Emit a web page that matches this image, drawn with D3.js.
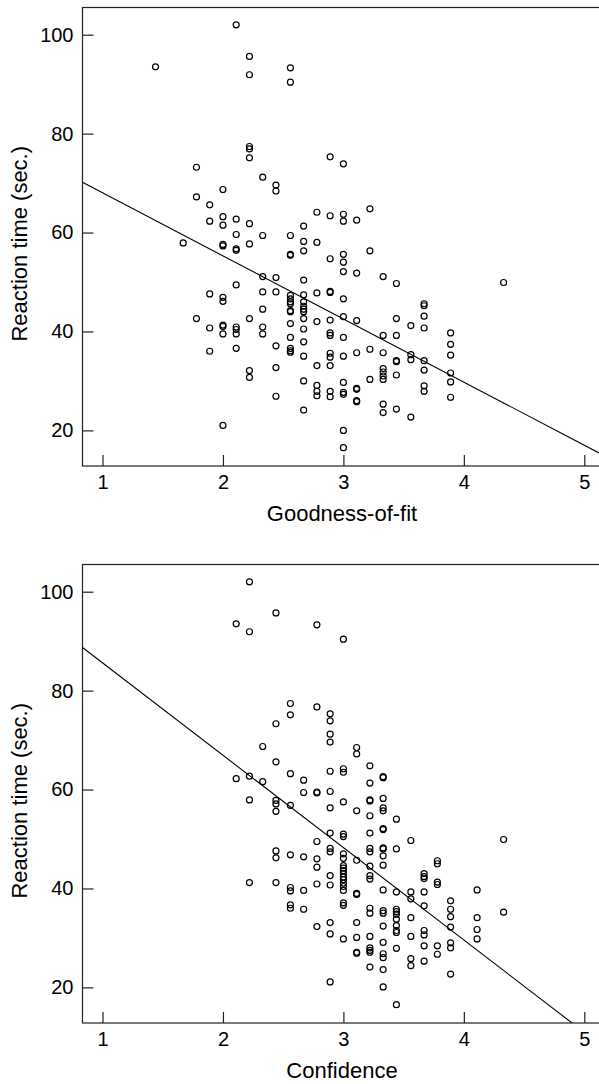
<!DOCTYPE html>
<html>
<head>
<meta charset="utf-8">
<script src="https://d3js.org/d3.v7.min.js"></script>
<style>
  body { margin: 0; background: #fff; }
  text { font-family: "Liberation Sans", Arial, sans-serif; fill: #000; }
</style>
</head>
<body>
<script>
(function(){

  //goodness-of-fit panel: score levels and the reaction times observed at each level
  var gofLevels = [1.44, 1.67, 1.78, 1.89, 2.00, 2.11, 2.22, 2.33, 2.44, 2.56, 2.67, 2.78,
                   2.89, 3.00, 3.11, 3.22, 3.33, 3.44, 3.56, 3.67, 3.89, 4.33];
  var gofTimes = [
    [93.5],
    [57.9],
    [73.2, 67.2, 42.6],
    [65.6, 62.3, 47.6, 40.7, 36.0],
    [68.7, 63.2, 61.5, 57.6, 57.3, 46.9, 46.1, 41.3, 41.0, 39.5, 21.0],
    [102.0, 62.7, 59.6, 56.7, 56.4, 49.4, 40.9, 40.4, 39.5, 36.6],
    [95.6, 91.9, 77.4, 76.9, 75.1, 61.8, 57.7, 42.6, 32.1, 30.7],
    [71.2, 59.4, 51.1, 48.0, 44.5, 40.9, 39.5],
    [69.6, 68.4, 50.9, 48.0, 37.1, 32.7, 26.9],
    [93.3, 90.4, 59.4, 55.6, 55.4, 47.3, 46.6, 46.0, 45.6, 44.2, 44.0, 41.6, 38.8, 36.6, 36.1, 35.8],
    [61.3, 58.2, 56.3, 50.4, 47.4, 46.0, 45.1, 44.5, 44.0, 42.6, 40.5, 37.9, 35.0, 30.0, 24.1],
    [64.1, 58.0, 47.8, 42.0, 33.1, 29.1, 27.9, 27.0],
    [75.3, 63.4, 54.7, 48.1, 47.9, 42.3, 39.7, 39.2, 35.6, 34.8, 33.1, 27.9, 26.8],
    [73.9, 63.7, 62.3, 55.6, 54.0, 52.1, 46.6, 43.0, 38.8, 35.0, 29.7, 27.7, 27.3, 20.0, 16.5],
    [62.5, 51.8, 42.2, 35.7, 28.5, 28.3, 26.0, 25.8],
    [64.8, 56.3, 36.4, 30.3],
    [51.1, 39.2, 35.7, 32.5, 31.8, 31.0, 30.3, 25.3, 23.6],
    [49.7, 42.6, 39.2, 34.1, 33.9, 31.2, 24.3],
    [41.2, 35.3, 34.3, 22.7],
    [45.6, 45.2, 43.1, 40.7, 34.1, 32.2, 29.0, 27.9],
    [39.7, 37.4, 35.2, 31.6, 29.8, 26.7],
    [49.9]
  ];

  //confidence panel
  var confLevels = [2.11, 2.22, 2.33, 2.44, 2.56, 2.67, 2.78, 2.89, 3.00, 3.11, 3.22, 3.33,
                    3.44, 3.56, 3.67, 3.78, 3.89, 4.11, 4.33];
  var confTimes = [
    [93.5, 62.2],
    [102.0, 91.9, 62.7, 57.9, 41.2],
    [68.7, 61.6],
    [95.7, 73.3, 65.6, 57.8, 57.1, 55.6, 47.6, 46.2, 41.2],
    [77.4, 75.1, 63.2, 56.8, 46.8, 40.2, 39.5, 36.7, 36.0],
    [61.9, 59.4, 46.4, 39.6, 35.8],
    [93.3, 76.7, 59.5, 59.3, 49.5, 46.0, 44.3, 40.9, 32.3],
    [75.3, 73.9, 71.2, 69.6, 63.7, 59.6, 56.3, 51.2, 48.1, 47.4, 42.6, 40.7, 33.1, 30.8, 21.1],
    [90.4, 64.2, 63.5, 57.5, 51.0, 50.5, 47.0, 46.1, 44.6, 44.1, 43.6, 43.0, 42.3, 41.8, 41.1, 40.4, 39.6, 37.1, 36.6, 29.8],
    [68.5, 67.2, 55.7, 45.7, 39.0, 38.8, 33.1, 30.1, 27.1, 26.9],
    [64.8, 61.3, 57.9, 57.7, 54.7, 51.2, 48.1, 47.4, 44.5, 42.6, 41.9, 36.0, 35.0, 30.3, 28.0, 27.5, 27.1, 24.1],
    [62.6, 62.4, 58.2, 56.3, 55.7, 52.1, 51.9, 48.2, 48.0, 46.6, 44.7, 39.7, 35.5, 35.0, 32.4, 29.1, 26.8, 26.0, 23.6, 20.1],
    [54.0, 48.0, 39.3, 35.8, 35.3, 34.8, 33.8, 32.5, 31.5, 31.1, 27.9, 16.5],
    [49.7, 39.3, 37.9, 34.1, 30.3, 25.8, 24.4],
    [43.0, 42.4, 42.0, 39.3, 36.5, 31.5, 30.6, 28.4, 25.3],
    [45.6, 45.0, 41.3, 40.8, 28.4, 26.7],
    [37.5, 35.8, 34.3, 32.2, 29.0, 28.0, 22.7],
    [39.7, 34.1, 31.7, 29.8],
    [49.9, 35.2]
  ];

  //regression lines: [intercept, slope]
  var gofFit = [80.8, -12.76];
  var confFit = [104.3, -18.68];

  //tick labels and axis titles
  var xTicks = [1, 2, 3, 4, 5];
  var yTicks = [20, 40, 60, 80, 100];
  var yTitle = "Reaction time (sec.)";
  var xTitles = ["Goodness-of-fit", "Confidence"];

  window.onload = setChart(); //begin script when window loads

  function setChart(){
    var width = 599,
        height = 1084;

    var svg = d3.select("body")
      .append("svg")
      .attr("width", width)
      .attr("height", height);

    var panels = [
      {levels: gofLevels, times: gofTimes, fit: gofFit, title: xTitles[0], top: 7.5},
      {levels: confLevels, times: confTimes, fit: confFit, title: xTitles[1], top: 564.5}
    ];

    panels.forEach(function(p, i){
      drawPanel(svg, p, i);
    });
  };

  //turn the per-level lists into x/y pairs
  function flatten(levels, times){
    var pts = [];
    levels.forEach(function(lv, i){
      times[i].forEach(function(t){
        pts.push({x: lv, y: t});
      });
    });
    return pts;
  };

  function drawPanel(svg, p, i){
    var left = 82.5,
        right = 599,
        plotH = 458.5,
        top = p.top,
        bottom = top + plotH;

    var x = d3.scaleLinear()
      .domain([0.834, 5.122])
      .range([left, right]);

    var y = d3.scaleLinear()
      .domain([12.8, 105.5])
      .range([bottom, top]);

    var g = svg.append("g").attr("class", "panel");

    //clip region for the fitted line
    g.append("clipPath")
      .attr("id", "clip" + i)
      .append("rect")
      .attr("x", left)
      .attr("y", top)
      .attr("width", right - left + 20)
      .attr("height", plotH);

    //x axis with ticks pointing inward
    var xAxis = d3.axisBottom(x)
      .tickValues(xTicks)
      .tickFormat(d3.format("d"))
      .tickSizeInner(-11)
      .tickSizeOuter(0)
      .tickPadding(9);

    var gx = g.append("g")
      .attr("transform", "translate(0," + bottom + ")")
      .call(xAxis);

    //y axis
    var yAxis = d3.axisLeft(y)
      .tickValues(yTicks)
      .tickSizeInner(-11)
      .tickSizeOuter(0)
      .tickPadding(9);

    var gy = g.append("g")
      .attr("transform", "translate(" + left + ",0)")
      .call(yAxis);

    [gx, gy].forEach(function(a){
      a.select(".domain").remove();
      a.selectAll(".tick line").attr("stroke", "#222").attr("stroke-width", 1.2);
      a.selectAll(".tick text")
        .style("font-family", "'Liberation Sans', Arial, sans-serif")
        .style("font-size", "20px")
        .attr("fill", "#000");
    });

    //frame: top, left and bottom (right side runs off the page)
    g.append("rect")
      .attr("x", left)
      .attr("y", top)
      .attr("width", right - left + 40)
      .attr("height", plotH)
      .attr("fill", "none")
      .attr("stroke", "#222")
      .attr("stroke-width", 1.2);

    //regression line
    var xd = x.domain();
    g.append("line")
      .attr("clip-path", "url(#clip" + i + ")")
      .attr("x1", x(xd[0]))
      .attr("y1", y(p.fit[0] + p.fit[1] * xd[0]))
      .attr("x2", x(xd[1]))
      .attr("y2", y(p.fit[0] + p.fit[1] * xd[1]))
      .attr("stroke", "#000")
      .attr("stroke-width", 1.1);

    //points
    g.selectAll(".pt")
      .data(flatten(p.levels, p.times))
      .enter()
      .append("circle")
      .attr("class", "pt")
      .attr("cx", function(d){ return x(d.x); })
      .attr("cy", function(d){ return y(d.y); })
      .attr("r", 3)
      .attr("fill", "none")
      .attr("stroke", "#000")
      .attr("stroke-width", 1.2);

    //axis titles
    g.append("text")
      .attr("x", 342)
      .attr("y", bottom + 55)
      .attr("text-anchor", "middle")
      .style("font-size", "22px")
      .text(p.title);

    g.append("text")
      .attr("transform", "translate(27," + (top + plotH / 2 + 7) + ") rotate(-90)")
      .attr("text-anchor", "middle")
      .style("font-size", "22px")
      .text(yTitle);
  };
})();
</script>
</body>
</html>
